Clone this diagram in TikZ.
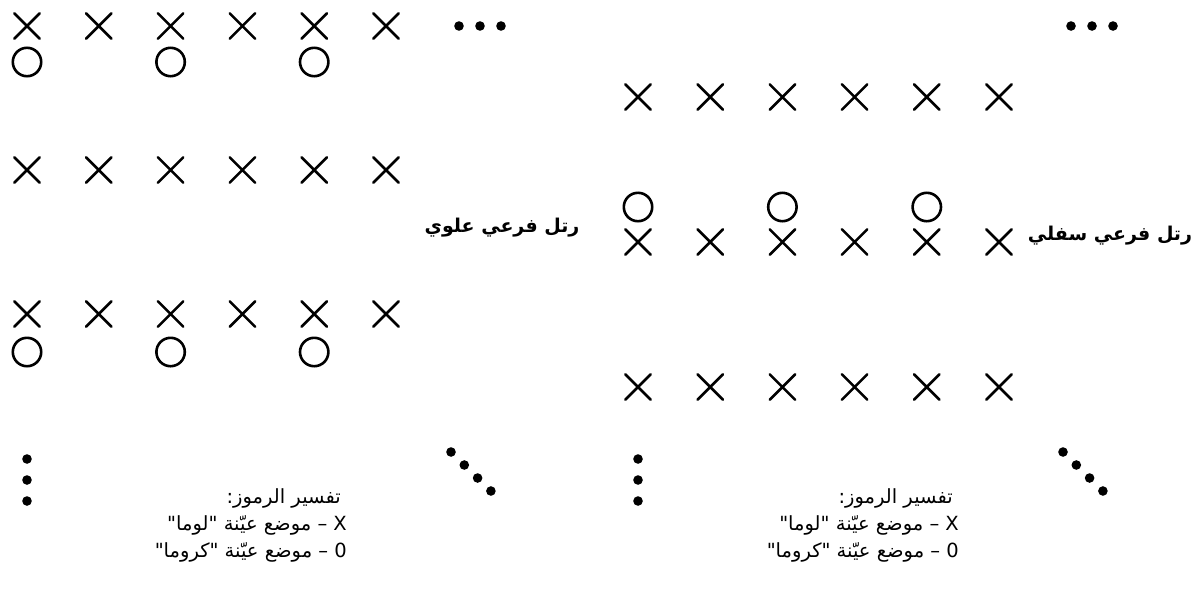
\documentclass[tikz,border=0pt]{standalone}
\usepackage{fontspec}
\newfontfamily\arabicfont[Script=Arabic]{DejaVu Sans}
\TeXXeTstate=1
\tikzset{
  symline/.style={line width=2.6pt, line cap=round},
  lumax/.pic={\draw[symline] (-12.7,-12.7) -- (12.7,12.7) (-12.7,12.7) -- (12.7,-12.7);},
  chromao/.pic={\draw[symline] (0,0) circle[radius=14.2];},
  bigdot/.style={fill=black},
  sublabel/.style={inner sep=0pt, font=\arabicfont\bfseries\fontsize{19}{22}\selectfont},
  legendline/.style={inner sep=0pt, anchor=east, font=\arabicfont\fontsize{19.5}{22}\selectfont}
}
\begin{document}
\begin{tikzpicture}[x=1pt,y=-1pt]
\useasboundingbox (0,0) rectangle (1198,603);
% left panel (upper sub-field)
\foreach \i in {0,...,5} {
  \pic at ({27+71.8*\i},26) {lumax};
  \pic at ({27+71.8*\i},170) {lumax};
  \pic at ({27+71.8*\i},314) {lumax};
}
\foreach \i in {0,2,4} {
  \pic at ({27+71.8*\i},62) {chromao};
  \pic at ({27+71.8*\i},352) {chromao};
}
\foreach \x in {459,480,501} \fill[bigdot] (\x,26) circle[radius=4.8];
\foreach \y in {459,480,501} \fill[bigdot] (27,\y) circle[radius=4.8];
\foreach \k in {0,...,3} \fill[bigdot] ({451+13.3*\k},{452+13*\k}) circle[radius=4.8];
% right panel (lower sub-field)
\foreach \i in {0,...,5} {
  \pic at ({638+72.2*\i},97) {lumax};
  \pic at ({638+72.2*\i},242) {lumax};
  \pic at ({638+72.2*\i},387) {lumax};
}
\foreach \i in {0,2,4} {
  \pic at ({638+72.2*\i},207) {chromao};
}
\foreach \x in {1071,1092,1113} \fill[bigdot] (\x,26) circle[radius=4.8];
\foreach \y in {459,480,501} \fill[bigdot] (638,\y) circle[radius=4.8];
\foreach \k in {0,...,3} \fill[bigdot] ({1063+13.3*\k},{452+13*\k}) circle[radius=4.8];
% labels
\node[sublabel] (upper) at (502,228) {\beginR رتل فرعي علوي\endR};
\node[sublabel] (lower) at (1110,236) {\beginR رتل فرعي سفلي\endR};
% legends
\node[legendline] (lega1) at (341,498) {\beginR تفسير الرموز:\endR};
\node[legendline] (lega2) at (347,525) {\beginR X – موضع عيّنة "لوما"\endR};
\node[legendline] (lega3) at (347,552) {\beginR 0 – موضع عيّنة "كروما"\endR};
\node[legendline] (legb1) at (953,498) {\beginR تفسير الرموز:\endR};
\node[legendline] (legb2) at (959,525) {\beginR X – موضع عيّنة "لوما"\endR};
\node[legendline] (legb3) at (959,552) {\beginR 0 – موضع عيّنة "كروما"\endR};
\end{tikzpicture}
\end{document}
